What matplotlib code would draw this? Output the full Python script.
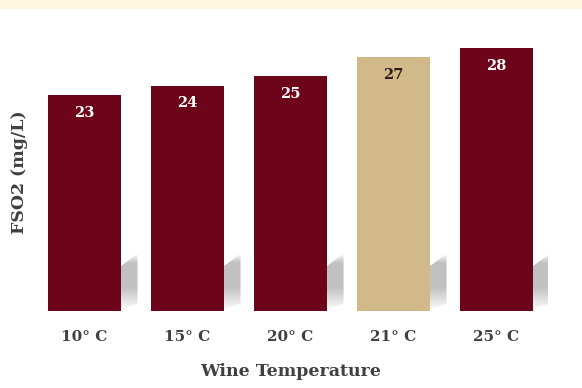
import numpy as np
import matplotlib
matplotlib.use("Agg")
import matplotlib.pyplot as plt
from matplotlib.patches import Polygon, Rectangle

temps = ["10° C", "15° C", "20° C", "21° C", "25° C"]
fso2 = [23, 24, 25, 27, 28]
bar_colors = ["#6c0519", "#6c0519", "#6c0519", "#d2b98a", "#6c0519"]
label_colors = ["white", "white", "white", "#2b1d14", "white"]

plt.rcParams["font.family"] = ["DejaVu Serif"]

fig = plt.figure(figsize=(5.82, 3.88), dpi=100)
fig.patches.append(Rectangle((0, 1 - 9 / 388), 1, 9 / 388, transform=fig.transFigure,
                             facecolor="#fff6df", edgecolor="none", zorder=0))
ax = fig.add_axes([33 / 582, 1 - 311 / 388, 515 / 582, 0.726])

x = np.arange(len(temps))
width = 0.71

# soft perspective shadows peeking out to the right of each bar
grad = np.linspace(0, 1, 200).reshape(-1, 1)
alpha_profile = np.clip(grad * 2.5, 0, 1) * np.clip((1 - grad) * 6.0, 0, 1)
for xi in x:
    r = xi + width / 2
    dx = 0.16
    poly = Polygon([(r - 0.05, 0), (r, 4.8), (r + dx, 6.1), (r + dx, 0.8)],
                   closed=True, facecolor="none", edgecolor="none")
    ax.add_patch(poly)
    img = np.zeros((200, 1, 4))
    img[..., :3] = 0.70
    img[..., 3] = alpha_profile * 0.8
    im = ax.imshow(img, extent=(r - 0.05, r + dx, 0, 6.1), origin="lower",
                   aspect="auto", zorder=1, interpolation="bilinear")
    im.set_clip_path(poly)

bars = ax.bar(x, fso2, width=width, color=bar_colors, edgecolor="none", zorder=2)

for b, v, c in zip(bars, fso2, label_colors):
    ax.text(b.get_x() + b.get_width() / 2, v - 1.9, str(v), ha="center", va="center",
            fontsize=10.5, fontweight="bold", color=c, zorder=3)

ax.set_xlim(-0.5, len(temps) - 0.5)
ax.set_ylim(0, 30)
ax.set_xticks(x)
ax.set_xticklabels(temps, fontsize=11, fontweight="bold", color="#404040")
ax.tick_params(axis="x", length=0, pad=14)
ax.set_yticks([])
for s in ax.spines.values():
    s.set_visible(False)

ax.set_xlabel("Wine Temperature", fontsize=12.5, fontweight="bold", color="#404040", labelpad=13)
fig.text(20 / 582, 1 - 172 / 388, "FSO2 (mg/L)", rotation=90, ha="center", va="center",
         fontsize=12.5, fontweight="bold", color="#404040")

fig.savefig("out.png", dpi=100)
